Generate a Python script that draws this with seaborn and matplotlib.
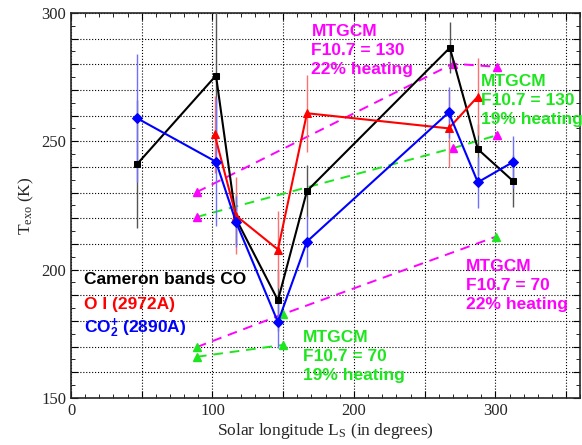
import matplotlib
matplotlib.use("Agg")
import matplotlib.pyplot as plt
import matplotlib.ticker as mticker
import seaborn as sns
import pandas as pd

# observations (Ls in degrees, Texo in K)
co_ls = [46.6, 102.5, 116.6, 146.3, 166.8, 267.8, 287.6, 312.5]
co_t = [241, 275.6, 219.8, 188, 230.6, 286.4, 246.9, 234.5]
co_err = [25, 30, 10, 12, 10, 10, 10, 10]

oi_ls = [101.5, 116.6, 146.3, 166.8, 267.0, 287.6]
oi_t = [252.7, 221, 207.8, 260.9, 255, 267.4]
oi_err = [15, 15, 15, 15, 15, 15]

co2p_ls = [46.6, 102.5, 116.6, 146.3, 166.8, 267.0, 287.6, 312.5]
co2p_t = [259, 242, 218.6, 179.5, 210.9, 261.2, 234, 241.9]
co2p_err = [25, 25, 10, 10, 10, 10, 10, 10]

# MTGCM model runs
m130_22_ls = [89, 270, 301]
m130_22_t = [230.2, 280.2, 279]
m130_19_ls = [89, 270, 301]
m130_19_t = [220.5, 247.3, 252.3]
m70_22_ls = [89, 149.8, 300.4]
m70_22_t = [169.8, 182.6, 212.8]
m70_19_ls = [89, 149.8]
m70_19_t = [166, 170.6]

sns.set_style("ticks")
plt.rcParams["font.family"] = ["Liberation Serif", "DejaVu Serif"]
plt.rcParams["mathtext.fontset"] = "custom"
plt.rcParams["mathtext.rm"] = "Liberation Serif"
plt.rcParams["mathtext.it"] = "Liberation Serif:italic"
plt.rcParams["mathtext.bf"] = "Liberation Sans:bold"

MAG = "#ff00ff"
GRN = "#1ee61e"

fig = plt.figure(figsize=(5.82, 4.45), dpi=100)
ax = fig.add_axes([0.122, 0.106, 0.875, 0.865])

# model curves
for xs, ys, lc, mc in [(m130_22_ls, m130_22_t, MAG, MAG),
                       (m130_19_ls, m130_19_t, GRN, MAG),
                       (m70_22_ls, m70_22_t, MAG, GRN),
                       (m70_19_ls, m70_19_t, GRN, GRN)]:
    df = pd.DataFrame({"ls": xs, "t": ys})
    sns.lineplot(data=df, x="ls", y="t", sort=False, color=lc, lw=1.4,
                 dashes=False, ax=ax, zorder=2).lines[-1].set_dashes([5, 3.5])
    ax.plot(xs, ys, ls="none", marker="^", ms=6, color=mc, zorder=3)

# observations with error bars
obs = [(co_ls, co_t, co_err, "black", "s", 5, "#555555"),
       (oi_ls, oi_t, oi_err, "red", "^", 6, "#ff7070"),
       (co2p_ls, co2p_t, co2p_err, "blue", "D", 5, "#7070ff")]
for xs, ys, es, c, m, ms, ec in obs:
    ax.errorbar(xs, ys, yerr=es, fmt="none", ecolor=ec, elinewidth=1,
                capsize=0, zorder=3)
    df = pd.DataFrame({"ls": xs, "t": ys})
    sns.lineplot(data=df, x="ls", y="t", sort=False, color=c, lw=1.5,
                 marker=m, markersize=ms, markeredgecolor=c, ax=ax, zorder=4)

ax.set_xlim(0, 360)
ax.set_ylim(150, 300)
ax.xaxis.set_major_locator(mticker.MultipleLocator(50))
ax.xaxis.set_minor_locator(mticker.MultipleLocator(10))
ax.yaxis.set_major_locator(mticker.MultipleLocator(10))
ax.yaxis.set_minor_locator(mticker.MultipleLocator(5))
ax.xaxis.set_major_formatter(mticker.FuncFormatter(
    lambda v, p: "%d" % v if v % 100 == 0 else ""))
ax.yaxis.set_major_formatter(mticker.FuncFormatter(
    lambda v, p: "%d" % v if v % 50 == 0 else ""))
ax.tick_params(which="both", direction="in", top=True, right=True,
               labelsize=12, color="black")
ax.tick_params(which="major", length=5)
ax.tick_params(which="minor", length=3)
ax.grid(True, which="major", ls=":", color="black", lw=0.8)
for s in ax.spines.values():
    s.set_linewidth(1.2)

ax.set_xlabel(r"Solar longitude L$_\mathrm{S}$ (in degrees)", fontsize=12.5,
              labelpad=2)
ax.set_ylabel(r"T$_\mathrm{exo}$ (K)", fontsize=12.5, labelpad=4)

tkw = dict(family=["Liberation Sans", "DejaVu Sans"], weight="bold",
           fontsize=12.5, va="top", linespacing=1.32, zorder=6)
ax.text(170, 295.5, "MTGCM\nF10.7 = 130\n22% heating", color=MAG, **tkw)
ax.text(289.5, 276, "MTGCM\nF10.7 = 130\n19% heating", color=GRN, **tkw)
ax.text(279, 204, "MTGCM\nF10.7 = 70\n22% heating", color=MAG, **tkw)
ax.text(164, 176.5, "MTGCM\nF10.7 = 70\n19% heating", color=GRN, **tkw)

lkw = dict(family=["Liberation Sans", "DejaVu Sans"], weight="bold",
           fontsize=12.5, va="center", zorder=6)
ax.text(9, 196, "Cameron bands CO", color="black", **lkw)
ax.text(9, 186.5, "O I (2972A)", color="red", **lkw)
ax.text(9, 177, r"CO$_\mathbf{2}^\mathbf{+}$ (2890A)", color="blue", **lkw)

fig.savefig("out.png", dpi=100)
